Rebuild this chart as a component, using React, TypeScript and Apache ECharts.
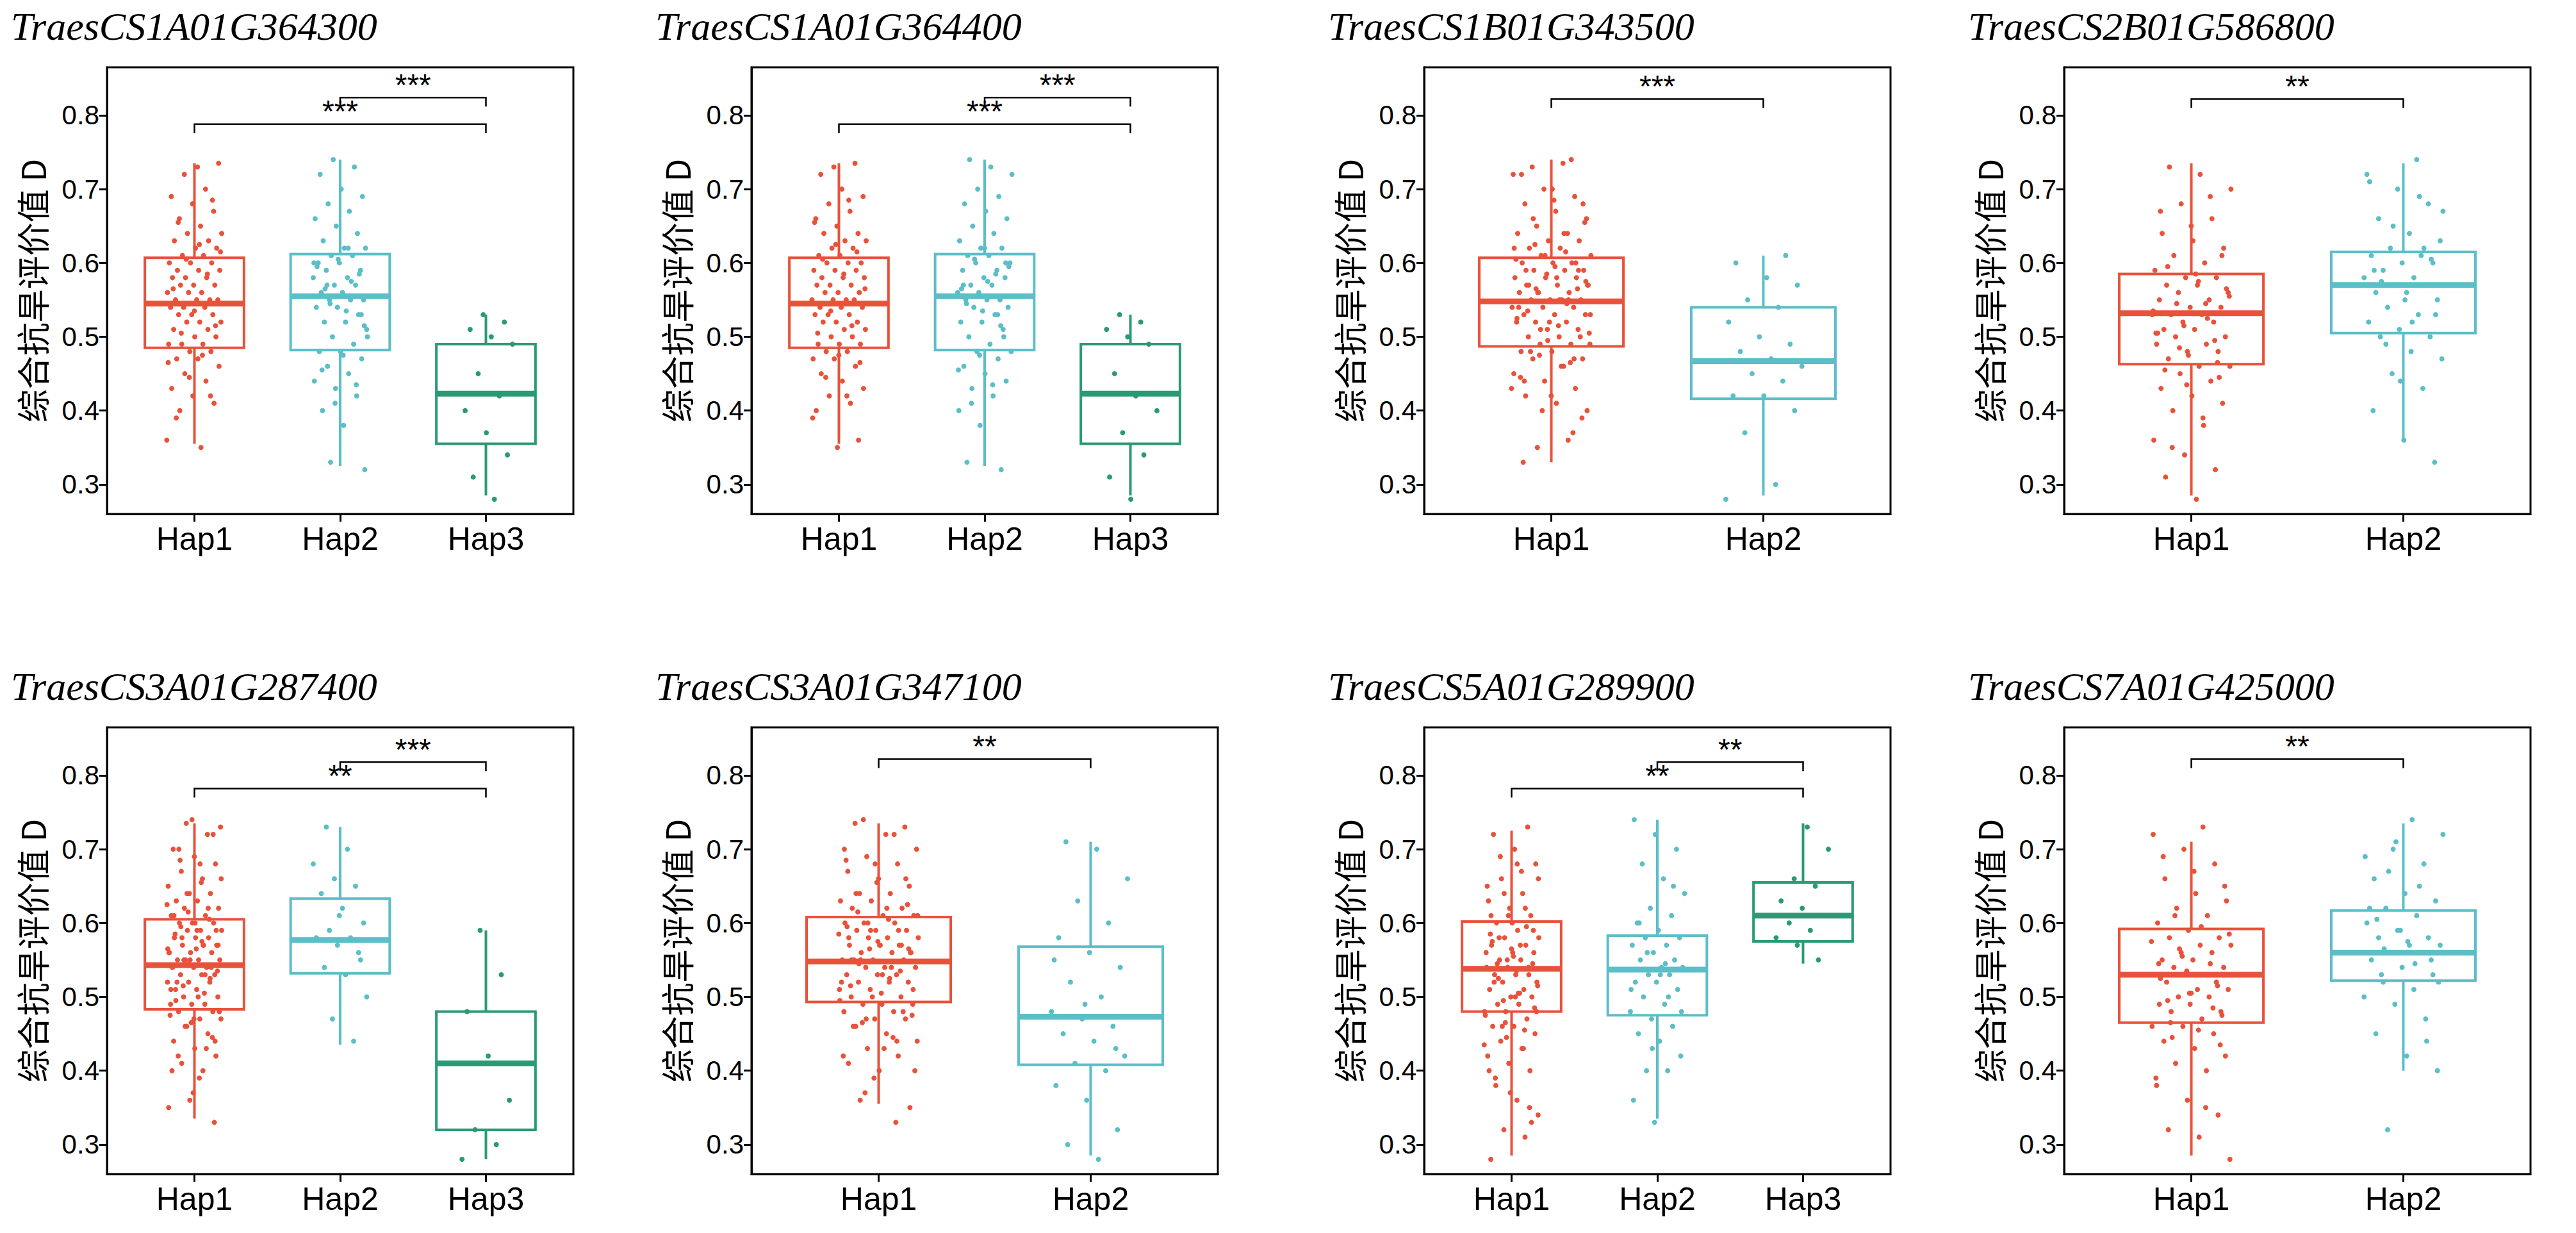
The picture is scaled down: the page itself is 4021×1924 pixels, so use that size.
import { useEffect, useRef } from "react";
import * as echarts from "echarts";

const RED = "#E8523A";
const CYAN = "#5BBEC8";
const GREEN = "#2A9A74";
const COLORS = [RED, CYAN, GREEN];

const parse = (s: string) => s.trim().split(/\s+/).map(Number);

const titles = [
  "TraesCS1A01G364300", "TraesCS1A01G364400", "TraesCS1B01G343500", "TraesCS2B01G586800",
  "TraesCS3A01G287400", "TraesCS3A01G347100", "TraesCS5A01G289900", "TraesCS7A01G425000",
];
const groupNames = [
  ["Hap1", "Hap2", "Hap3"], ["Hap1", "Hap2", "Hap3"], ["Hap1", "Hap2"], ["Hap1", "Hap2"],
  ["Hap1", "Hap2", "Hap3"], ["Hap1", "Hap2"], ["Hap1", "Hap2", "Hap3"], ["Hap1", "Hap2"],
];

// [min, q1, median, q3, max]
const boxStats = [
  [[0.355, 0.485, 0.545, 0.607, 0.735], [0.325, 0.482, 0.555, 0.612, 0.74], [0.285, 0.355, 0.423, 0.49, 0.53]],
  [[0.355, 0.485, 0.545, 0.607, 0.735], [0.325, 0.482, 0.555, 0.612, 0.74], [0.285, 0.355, 0.423, 0.49, 0.53]],
  [[0.33, 0.487, 0.548, 0.607, 0.74], [0.285, 0.416, 0.467, 0.54, 0.61]],
  [[0.285, 0.463, 0.532, 0.585, 0.735], [0.36, 0.505, 0.57, 0.615, 0.735]],
  [[0.335, 0.483, 0.543, 0.605, 0.735], [0.435, 0.532, 0.577, 0.633, 0.73], [0.28, 0.32, 0.41, 0.48, 0.59]],
  [[0.355, 0.493, 0.548, 0.608, 0.735], [0.285, 0.408, 0.473, 0.568, 0.71]],
  [[0.285, 0.48, 0.538, 0.602, 0.725], [0.335, 0.475, 0.537, 0.583, 0.74], [0.545, 0.575, 0.61, 0.655, 0.735]],
  [[0.285, 0.465, 0.53, 0.592, 0.71], [0.4, 0.522, 0.56, 0.617, 0.735]],
];

const hapA = parse("0.36 0.35 0.40 0.41 0.42 0.43 0.44 0.45 0.46 0.47 0.47 0.48 0.48 0.49 0.49 0.49 0.50 0.50 0.51 0.51 0.52 0.52 0.52 0.53 0.53 0.53 0.54 0.54 0.54 0.55 0.55 0.55 0.55 0.56 0.56 0.56 0.57 0.57 0.57 0.58 0.58 0.58 0.59 0.59 0.59 0.60 0.60 0.60 0.61 0.61 0.62 0.62 0.63 0.63 0.64 0.64 0.65 0.66 0.67 0.68 0.69 0.70 0.72 0.735 0.73 0.39 0.42 0.445 0.465 0.475 0.505 0.515 0.535 0.565 0.585 0.605 0.615 0.625 0.655 0.685");
const hapAExtra = parse("0.33 0.37 0.40 0.43 0.46 0.48 0.50 0.52 0.54 0.55 0.56 0.57 0.58 0.59 0.60 0.61 0.62 0.64 0.66 0.68 0.70 0.72 0.74 0.51 0.53 0.55 0.57 0.59 0.495 0.525 0.545 0.565 0.575 0.595 0.44 0.47");
const p1Hap2 = parse("0.33 0.32 0.38 0.40 0.42 0.43 0.44 0.45 0.46 0.47 0.48 0.48 0.49 0.50 0.51 0.52 0.52 0.53 0.54 0.54 0.55 0.55 0.55 0.56 0.56 0.57 0.57 0.58 0.58 0.59 0.59 0.60 0.60 0.61 0.61 0.62 0.62 0.63 0.64 0.65 0.66 0.67 0.68 0.69 0.70 0.72 0.73 0.74 0.50 0.535 0.565 0.585 0.605 0.595 0.575 0.545 0.515 0.475 0.455 0.435 0.41 0.60 0.62 0.57 0.53");
const p1Hap3 = parse("0.28 0.31 0.34 0.37 0.40 0.42 0.45 0.49 0.50 0.51 0.52 0.53");
const p3Hap2 = parse("0.28 0.30 0.37 0.40 0.42 0.42 0.44 0.45 0.46 0.47 0.48 0.49 0.50 0.52 0.54 0.55 0.57 0.58 0.60 0.61");
const p4Hap1 = parse("0.28 0.31 0.32 0.34 0.36 0.38 0.40 0.41 0.42 0.43 0.44 0.45 0.46 0.46 0.47 0.48 0.48 0.49 0.49 0.50 0.50 0.51 0.51 0.52 0.52 0.53 0.53 0.53 0.54 0.54 0.55 0.55 0.56 0.56 0.57 0.57 0.58 0.58 0.59 0.60 0.61 0.62 0.63 0.64 0.66 0.68 0.70 0.72 0.73 0.445 0.475 0.505 0.525 0.545 0.565 0.585 0.455 0.495 0.515 0.535 0.39 0.35 0.61 0.65 0.67 0.69 0.485 0.555 0.575 0.595 0.465 0.435 0.505 0.545");
const p4Hap2 = parse("0.33 0.36 0.40 0.43 0.45 0.47 0.48 0.50 0.50 0.51 0.52 0.53 0.54 0.55 0.56 0.56 0.57 0.57 0.58 0.58 0.59 0.60 0.60 0.61 0.61 0.62 0.63 0.64 0.66 0.68 0.70 0.72 0.74 0.49 0.53 0.55 0.59 0.62 0.65 0.67 0.52 0.575 0.605 0.44 0.71 0.69");
const p5Hap2 = parse("0.44 0.47 0.50 0.53 0.54 0.56 0.57 0.58 0.58 0.59 0.60 0.62 0.64 0.65 0.66 0.68 0.70 0.73 0.55 0.61");
const p5Hap3 = parse("0.28 0.30 0.32 0.36 0.42 0.48 0.53 0.59");
const p6Hap2 = parse("0.28 0.30 0.32 0.36 0.38 0.40 0.41 0.42 0.44 0.45 0.46 0.47 0.48 0.50 0.52 0.54 0.56 0.58 0.60 0.63 0.66 0.70 0.71 0.43 0.49 0.55");
const p7Hap2 = parse("0.33 0.36 0.40 0.40 0.42 0.44 0.45 0.46 0.47 0.48 0.49 0.50 0.51 0.52 0.52 0.53 0.53 0.54 0.54 0.55 0.55 0.56 0.57 0.57 0.58 0.58 0.59 0.60 0.61 0.62 0.64 0.66 0.68 0.70 0.72 0.74 0.50 0.56 0.48 0.53 0.60 0.65 0.43 0.51 0.545");
const p7Hap3 = parse("0.55 0.57 0.58 0.59 0.60 0.61 0.62 0.63 0.65 0.66 0.70 0.73");
const p8Hap2 = parse("0.32 0.40 0.42 0.45 0.47 0.49 0.50 0.51 0.52 0.53 0.54 0.55 0.56 0.56 0.57 0.57 0.58 0.58 0.59 0.60 0.61 0.62 0.63 0.64 0.66 0.68 0.70 0.72 0.74 0.53 0.55 0.59 0.62 0.65 0.67 0.52 0.575 0.605 0.44 0.71 0.69 0.545 0.565");

const points = [
  [hapA, p1Hap2, p1Hap3],
  [hapA, p1Hap2, p1Hap3],
  [hapA.concat(hapAExtra), p3Hap2],
  [p4Hap1, p4Hap2],
  [hapA.concat(hapAExtra), p5Hap2, p5Hap3],
  [hapA.concat(hapAExtra), p6Hap2],
  [p4Hap1.concat(hapAExtra.slice(0, 20)), p7Hap2, p7Hap3],
  [p4Hap1, p8Hap2],
];

// [fromGroup, toGroup, y, label]
const brackets: [number, number, number, string][][] = [
  [[1, 3, 0.788, "***"], [2, 3, 0.824, "***"]],
  [[1, 3, 0.788, "***"], [2, 3, 0.824, "***"]],
  [[1, 2, 0.822, "***"]],
  [[1, 2, 0.822, "**"]],
  [[1, 3, 0.782, "**"], [2, 3, 0.818, "***"]],
  [[1, 2, 0.822, "**"]],
  [[1, 3, 0.782, "**"], [2, 3, 0.818, "**"]],
  [[1, 2, 0.822, "**"]],
];

const colLeft = [159, 1165, 2215, 3214];
const panelW = 728;
const rowTop = [97, 1127];
const panelH = 697;

const jitter = (i: number) => (((i * 0.618034) % 1) - 0.5) * 0.38;

export default function App() {
  const ref = useRef<HTMLDivElement | null>(null);
  useEffect(() => {
    if (!ref.current) return;
    const chart = echarts.init(ref.current, undefined, { renderer: "svg" });
    const grid: any[] = [];
    const xAxis: any[] = [];
    const yAxis: any[] = [];
    const series: any[] = [];
    const graphic: any[] = [];
    titles.forEach((t, p) => {
      const left = colLeft[p % 4];
      const top = rowTop[Math.floor(p / 4)];
      const n = groupNames[p].length;
      grid.push({ left, top, width: panelW, height: panelH, show: true, borderColor: "#000", borderWidth: 3, backgroundColor: "transparent" });
      const ticks = groupNames[p].map((_, i) => i + 1);
      xAxis.push({
        type: "value", gridIndex: p, min: 0.4, max: n + 0.6,
        axisLine: { show: true, onZero: false, lineStyle: { color: "#000", width: 3 } },
        axisTick: { show: true, customValues: ticks, length: 12, lineStyle: { color: "#000", width: 3 } },
        axisLabel: { customValues: ticks, formatter: (v: number) => groupNames[p][Math.round(v) - 1], color: "#000", fontSize: 50, fontFamily: "Liberation Sans", margin: 14 },
        splitLine: { show: false },
      });
      yAxis.push({
        type: "value", gridIndex: p, min: 0.26, max: 0.865,
        name: "综合抗旱评价值 D", nameLocation: "middle", nameGap: 92, nameRotate: 90,
        nameTextStyle: { fontSize: 52, color: "#000", fontFamily: "Noto Sans CJK SC" },
        axisLine: { show: true, lineStyle: { color: "#000", width: 3 } },
        axisTick: { show: true, customValues: [0.3, 0.4, 0.5, 0.6, 0.7, 0.8], length: 12, lineStyle: { color: "#000", width: 3 } },
        axisLabel: { customValues: [0.3, 0.4, 0.5, 0.6, 0.7, 0.8], formatter: (v: number) => v.toFixed(1), color: "#000", fontSize: 42, fontFamily: "Liberation Sans", margin: 12 },
        splitLine: { show: false },
      });
      graphic.push({
        type: "text", left: left - 150, top: top - 95,
        style: { text: t, font: "italic 62px 'Liberation Serif'", fill: "#000" },
      });
      series.push({
        type: "custom", xAxisIndex: p, yAxisIndex: p, z: 2,
        data: boxStats[p].map((s, i) => [i + 1, ...s]),
        renderItem: (params: any, api: any) => {
          const x = api.value(0);
          const c = COLORS[params.dataIndex];
          const hw = 0.34;
          const pt = (xx: number, yy: number) => api.coord([xx, yy]);
          const [mn, q1, md, q3, mx] = [1, 2, 3, 4, 5].map((k) => api.value(k));
          const tl = pt(x - hw, q3);
          const br = pt(x + hw, q1);
          const st = { stroke: c, lineWidth: 4, fill: "none" };
          const a = pt(x, mn), b = pt(x, q1), cc = pt(x, q3), d = pt(x, mx);
          const m1 = pt(x - hw, md), m2 = pt(x + hw, md);
          return {
            type: "group",
            children: [
              { type: "line", shape: { x1: a[0], y1: a[1], x2: b[0], y2: b[1] }, style: st },
              { type: "line", shape: { x1: cc[0], y1: cc[1], x2: d[0], y2: d[1] }, style: st },
              { type: "rect", shape: { x: tl[0], y: tl[1], width: br[0] - tl[0], height: br[1] - tl[1] }, style: st },
              { type: "line", shape: { x1: m1[0], y1: m1[1], x2: m2[0], y2: m2[1] }, style: { stroke: c, lineWidth: 9 } },
            ],
          };
        },
      });
      points[p].forEach((vals, g) => {
        series.push({
          type: "scatter", xAxisIndex: p, yAxisIndex: p, z: 3, symbolSize: 8,
          itemStyle: { color: COLORS[g], opacity: 1 },
          data: vals.map((v, i) => [g + 1 + jitter(i + g * 7 + p * 3), v]),
        });
      });
      series.push({
        type: "custom", xAxisIndex: p, yAxisIndex: p, z: 4,
        data: brackets[p].map((b) => [b[0], b[1], b[2]]),
        renderItem: (params: any, api: any) => {
          const s = api.coord([api.value(0), api.value(2)]);
          const e = api.coord([api.value(1), api.value(2)]);
          return {
            type: "group",
            children: [
              { type: "polyline", shape: { points: [[s[0], s[1] + 14], s, e, [e[0], e[1] + 14]] }, style: { stroke: "#000", lineWidth: 2.5, fill: "none" } },
              { type: "text", x: (s[0] + e[0]) / 2, y: s[1] + 4, style: { text: brackets[p][params.dataIndex][3], font: "48px 'Liberation Sans'", fill: "#000", align: "center", verticalAlign: "bottom" } },
            ],
          };
        },
      });
    });
    chart.setOption({ animation: false, backgroundColor: "#fff", grid, xAxis, yAxis, series, graphic });
    return () => chart.dispose();
  }, []);
  return <div ref={ref} style={{ width: 4005, height: 1908 }} />;
}
